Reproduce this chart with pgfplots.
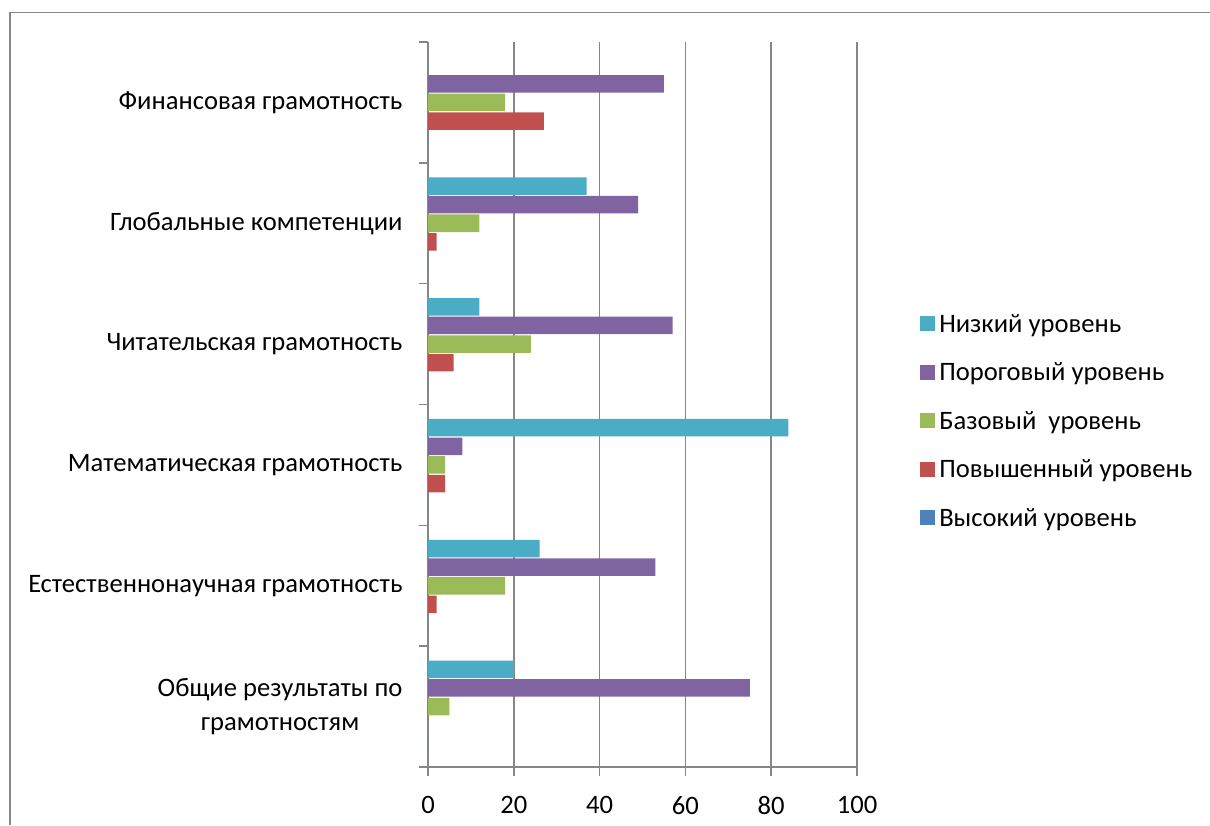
\documentclass[border=0pt]{standalone}
\usepackage{pgfplots}
\pgfplotsset{compat=1.18}
\usepackage{fontspec}
\setmainfont{Carlito}
\definecolor{cLow}{HTML}{4BACC6}
\definecolor{cThr}{HTML}{8064A2}
\definecolor{cBas}{HTML}{9BBB59}
\definecolor{cAdv}{HTML}{C0504D}
\definecolor{cHig}{HTML}{4F81BD}
\definecolor{gridc}{HTML}{868686}
\begin{document}
\begin{tikzpicture}[font=\fontsize{26.6}{34}\selectfont]
\begin{axis}[
  at={(428pt,58pt)}, anchor=south west,
  scale only axis, width=429pt, height=725pt,
  xmin=0, xmax=100, ymin=-0.5, ymax=5.5,
  xbar, bar width=0.145,
  xtick={0,20,...,100},
  /pgf/number format/assume math mode=true,
  xmajorgrids,
  grid style={line width=1.5pt, color=gridc},
  axis x line*=bottom, axis y line*=left,
  axis line style={line width=1.5pt, color=gridc},
  tick style={line width=1.5pt, color=gridc},
  tick align=outside, major tick length=9pt,
  ytick={-0.5,0.5,...,5.5}, yticklabels={},
  extra y ticks={0,1,2,3,4,5},
  extra y tick labels={{Общие результаты по\\грамотностям},Естественнонаучная грамотность,Математическая грамотность,Читательская грамотность,Глобальные компетенции,Финансовая грамотность},
  extra y tick style={tick style={draw=none}},
  yticklabel style={align=center, anchor=east, xshift=-13pt},
  xticklabel style={yshift=-17pt},
  legend style={at={(1.147,0.477)}, anchor=west, draw=none, fill=none,
    row sep=21pt, inner sep=0pt, nodes={inner sep=4pt}},
  legend cell align=left,
  legend image code/.code={\fill[#1] (0pt,-7pt) rectangle (15pt,8pt);},
]
\addplot[fill=cLow, draw=none, bar shift=0.308] coordinates {(20,0) (26,1) (84,2) (12,3) (37,4) (0,5)};
\addlegendentry{Низкий уровень}
\addplot[fill=cThr, draw=none, bar shift=0.154] coordinates {(75,0) (53,1) (8,2) (57,3) (49,4) (55,5)};
\addlegendentry{Пороговый уровень}
\addplot[fill=cBas, draw=none, bar shift=0] coordinates {(5,0) (18,1) (4,2) (24,3) (12,4) (18,5)};
\addlegendentry{Базовый\ \ уровень}
\addplot[fill=cAdv, draw=none, bar shift=-0.154] coordinates {(0,0) (2,1) (4,2) (6,3) (2,4) (27,5)};
\addlegendentry{Повышенный уровень}
\addplot[fill=cHig, draw=none, bar shift=-0.308] coordinates {(0,0) (0,1) (0,2) (0,3) (0,4) (0,5)};
\addlegendentry{Высокий уровень}
\end{axis}
\draw[gridc, line width=1.5pt] (10pt,0pt) -- (10pt,812.5pt) -- (1212pt,812.5pt);
\pgfresetboundingbox
\useasboundingbox (0pt,0pt) rectangle (1210pt,825pt);
\end{tikzpicture}
\end{document}
